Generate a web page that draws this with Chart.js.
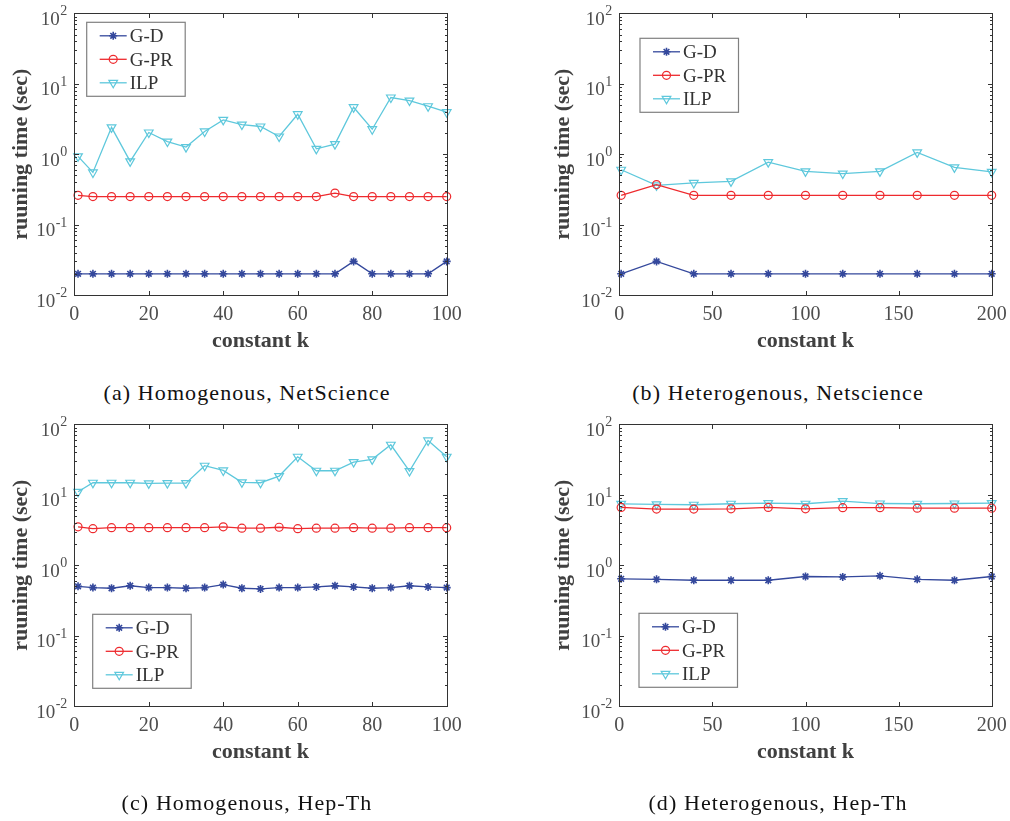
<!DOCTYPE html>
<html>
<head>
<meta charset="utf-8">
<script src="https://cdn.jsdelivr.net/npm/chart.js@4.4.0/dist/chart.umd.min.js"></script>
<style>
  body { margin: 0; background: #fff; }
  #page { position: relative; width: 1010px; height: 821px; overflow: hidden; }
  .panel { position: absolute; height: 380px; }
  .caption { position: absolute; width: 500px; text-align: center; line-height: 22px;
             font-family: "Liberation Serif", serif; font-size: 22px; letter-spacing: 1.1px; color: #111; }
</style>
</head>
<body>
<div id="page">
  <div class="panel" style="left:0;top:0"><canvas id="chartA" width="500" height="380"></canvas></div>
  <div class="panel" style="left:500px;top:0"><canvas id="chartB" width="510" height="380"></canvas></div>
  <div class="panel" style="left:0;top:411px"><canvas id="chartC" width="500" height="380"></canvas></div>
  <div class="panel" style="left:500px;top:411px"><canvas id="chartD" width="510" height="380"></canvas></div>
  <div class="caption" style="left:-3px;top:382px">(a) Homogenous, NetScience</div>
  <div class="caption" style="left:528px;top:382px">(b) Heterogenous, Netscience</div>
  <div class="caption" style="left:-3px;top:792px">(c) Homogenous, Hep-Th</div>
  <div class="caption" style="left:528px;top:792px">(d) Heterogenous, Hep-Th</div>
</div>
<script>
// constant k values
const kA = [1, 5, 10, 15, 20, 25, 30, 35, 40, 45, 50, 55, 60, 65, 70, 75, 80, 85, 90, 95, 100];
const kB = [1, 20, 40, 60, 80, 100, 120, 140, 160, 180, 200];

// (a) Homogenous, NetScience
const gdA = [0.02, 0.02, 0.02, 0.02, 0.02, 0.02, 0.02, 0.02, 0.02, 0.02, 0.02, 0.02, 0.02, 0.02, 0.02, 0.03, 0.02, 0.02, 0.02, 0.02, 0.03];
const gprA = [0.26, 0.25, 0.25, 0.25, 0.25, 0.25, 0.25, 0.25, 0.25, 0.25, 0.25, 0.25, 0.25, 0.25, 0.28, 0.25, 0.25, 0.25, 0.25, 0.25, 0.25];
const ilpA = [0.93, 0.55, 2.4, 0.79, 2.03, 1.51, 1.26, 2.1, 3.07, 2.63, 2.47, 1.78, 3.69, 1.19, 1.39, 4.64, 2.26, 6.37, 5.77, 4.79, 3.94];

// (b) Heterogenous, Netscience
const gdB = [0.02, 0.03, 0.02, 0.02, 0.02, 0.02, 0.02, 0.02, 0.02, 0.02, 0.02];
const gprB = [0.26, 0.37, 0.26, 0.26, 0.26, 0.26, 0.26, 0.26, 0.26, 0.26, 0.26];
const ilpB = [0.6, 0.36, 0.39, 0.41, 0.77, 0.57, 0.53, 0.57, 1.06, 0.65, 0.56];

// (c) Homogenous, Hep-Th
const gdC = [0.50, 0.48, 0.47, 0.51, 0.48, 0.48, 0.47, 0.48, 0.53, 0.47, 0.46, 0.48, 0.48, 0.49, 0.51, 0.49, 0.47, 0.48, 0.51, 0.49, 0.48];
const gprC = [3.5, 3.3, 3.4, 3.4, 3.4, 3.4, 3.4, 3.4, 3.5, 3.35, 3.35, 3.45, 3.3, 3.35, 3.35, 3.4, 3.35, 3.35, 3.4, 3.4, 3.4];
const ilpC = [11.0, 14.8, 14.8, 14.8, 14.5, 14.6, 14.6, 25.8, 22.1, 15.0, 14.8, 18.4, 34.6, 21.9, 21.9, 29.1, 31.8, 51.2, 21.7, 59.0, 34.6];

// (d) Heterogenous, Hep-Th
const gdD = [0.64, 0.63, 0.61, 0.61, 0.61, 0.69, 0.68, 0.705, 0.63, 0.61, 0.69];
const gprD = [6.6, 6.25, 6.25, 6.3, 6.6, 6.3, 6.55, 6.55, 6.45, 6.45, 6.45];
const ilpD = [7.4, 7.3, 7.2, 7.45, 7.6, 7.45, 8.1, 7.5, 7.45, 7.5, 7.6];

// tick labels
const xTicksA = [0, 20, 40, 60, 80, 100];
const xTicksB = [0, 50, 100, 150, 200];
const yExps = [-2, -1, 0, 1, 2];

const seriesNames = ['G-D', 'G-PR', 'ILP'];
const serif = '"Liberation Serif", "Times New Roman", serif';
const axisGray = '#404040';

function toPoints(xs, ys) {
    return xs.map((x, i) => ({ x: x, y: ys[i] }));
}

// box, inward ticks, 10^n labels and the legend
const framePlugin = {
    id: 'frame',
    afterDraw(chart) {
        const ctx = chart.ctx;
        const area = chart.chartArea;
        const xs = chart.scales.x;
        const ys = chart.scales.y;
        ctx.save();
        ctx.strokeStyle = '#333';
        ctx.lineWidth = 1;
        const L = Math.round(area.left) + 0.5, R = Math.round(area.right) + 0.5;
        const T = Math.round(area.top) + 0.5, B = Math.round(area.bottom) + 0.5;
        ctx.strokeRect(L, T, R - L, B - T);

        ctx.beginPath();
        xs.ticks.forEach(t => {
            const px = Math.round(xs.getPixelForValue(t.value)) + 0.5;
            ctx.moveTo(px, B); ctx.lineTo(px, B - 4.5);
            ctx.moveTo(px, T); ctx.lineTo(px, T + 4.5);
        });
        yExps.forEach(e => {
            for (let m = 1; m <= 9; m++) {
                const v = m * Math.pow(10, e);
                if (e === 2 && m > 1) break;
                const py = Math.round(ys.getPixelForValue(v)) + 0.5;
                const len = m === 1 ? 4.5 : 2.5;
                ctx.moveTo(L, py); ctx.lineTo(L + len, py);
                ctx.moveTo(R, py); ctx.lineTo(R - len, py);
            }
        });
        ctx.stroke();

        // y tick labels with superscript exponents
        ctx.fillStyle = '#4d4d4d';
        ctx.textAlign = 'right';
        ctx.textBaseline = 'alphabetic';
        yExps.forEach(e => {
            const py = ys.getPixelForValue(Math.pow(10, e));
            const right = area.left - 7;
            const expText = e < 0 ? '-' + Math.abs(e) : String(e);
            ctx.font = '14px ' + serif;
            const ew = ctx.measureText(expText).width;
            ctx.fillText(expText, right, py + 2);
            ctx.font = '19px ' + serif;
            ctx.fillText('10', right - ew - 0.5, py + 11.5);
        });

        // legend
        const lg = chart.options.plugins.frame;
        const bx = area.left + lg.dx, by = area.top + lg.dy;
        const bw = 98.5, bh = 74;
        ctx.fillStyle = '#fff';
        ctx.fillRect(bx, by, bw, bh);
        ctx.strokeStyle = '#808080';
        ctx.lineWidth = 1.2;
        ctx.strokeRect(bx, by, bw, bh);
        chart.data.datasets.forEach((ds, i) => {
            const cy = by + 13.5 + i * 23.5;
            ctx.strokeStyle = ds.borderColor;
            ctx.lineWidth = ds.borderWidth;
            ctx.beginPath();
            ctx.moveTo(bx + 13, cy); ctx.lineTo(bx + 40, cy);
            ctx.stroke();
            ctx.fillStyle = ds.pointBackgroundColor;
            ctx.lineWidth = ds.pointBorderWidth;
            Chart.helpers.drawPoint(ctx, {
                pointStyle: ds.pointStyle, radius: ds.pointRadius,
                rotation: ds.pointRotation || 0, borderWidth: ds.pointBorderWidth
            }, bx + 26.5, cy);
            ctx.fillStyle = '#333';
            ctx.textAlign = 'left';
            ctx.font = '19px ' + serif;
            ctx.fillText(ds.label, bx + 43, cy + 6.5);
        });
        ctx.restore();
    }
};

function makeChart(id, ks, gd, gpr, ilp, xMax, xTicks, plotLeft, rightPad, titlePad, legendOffset) {
    const ctx = document.getElementById(id).getContext('2d');
    return new Chart(ctx, {
        type: 'line',
        data: {
            datasets: [{
                label: seriesNames[0],
                data: toPoints(ks, gd),
                borderColor: '#34489c',
                borderWidth: 1.3,
                pointStyle: 'star',
                pointRadius: 4,
                pointBorderWidth: 1.6,
                pointBorderColor: '#34489c',
                pointBackgroundColor: '#34489c',
                clip: false
            }, {
                label: seriesNames[1],
                data: toPoints(ks, gpr),
                borderColor: '#ee2a2e',
                borderWidth: 1.3,
                pointStyle: 'circle',
                pointRadius: 4,
                pointBorderWidth: 1.2,
                pointBorderColor: '#ee2a2e',
                pointBackgroundColor: 'rgba(255,255,255,0)',
                clip: false
            }, {
                label: seriesNames[2],
                data: toPoints(ks, ilp),
                borderColor: '#5ec8dc',
                borderWidth: 1.3,
                pointStyle: 'triangle',
                pointRotation: 180,
                pointRadius: 5,
                pointBorderWidth: 1.2,
                pointBorderColor: '#5ec8dc',
                pointBackgroundColor: 'rgba(255,255,255,0)',
                clip: false
            }]
        },
        options: {
            responsive: false,
            animation: false,
            devicePixelRatio: 1,
            layout: { padding: { top: 13.3, right: rightPad, left: 0, bottom: 0 } },
            elements: { line: { tension: 0 } },
            scales: {
                x: {
                    type: 'linear',
                    min: 0,
                    max: xMax,
                    afterBuildTicks: s => { s.ticks = xTicks.map(v => ({ value: v })); },
                    ticks: {
                        font: { family: serif, size: 20 },
                        color: '#4d4d4d',
                        padding: 8,
                        maxRotation: 0,
                        autoSkip: false
                    },
                    grid: { display: false, drawTicks: false },
                    border: { display: false },
                    title: {
                        display: true,
                        text: 'constant k',
                        font: { family: serif, size: 22, weight: 'bold' },
                        color: axisGray,
                        padding: { top: 0, bottom: 25 }
                    },
                    afterFit: s => { s.height = 85; s.paddingLeft = 0; s.paddingRight = 0; }
                },
                y: {
                    type: 'logarithmic',
                    min: 0.01,
                    max: 100,
                    afterBuildTicks: s => { s.ticks = yExps.map(e => ({ value: Math.pow(10, e) })); },
                    ticks: { display: false },
                    grid: { display: false },
                    border: { display: false },
                    title: {
                        display: true,
                        text: 'ruuning time (sec)',
                        font: { family: serif, size: 22, weight: 'bold' },
                        color: axisGray,
                        padding: { top: titlePad, bottom: 0 }
                    },
                    afterFit: s => { s.width = plotLeft; s.paddingTop = 0; s.paddingBottom = 0; }
                }
            },
            plugins: {
                legend: { display: false },
                tooltip: { enabled: false },
                frame: legendOffset
            }
        },
        plugins: [framePlugin]
    });
}

makeChart('chartA', kA, gdA, gprA, ilpA, 100, xTicksA, 74.3, 53.3, 7.8, { dx: 12.4, dy: 9 });
makeChart('chartB', kB, gdB, gprB, ilpB, 200, xTicksB, 119.3, 18.3, 49.8, { dx: 20.7, dy: 25 });
makeChart('chartC', kA, gdC, gprC, ilpC, 100, xTicksA, 74.3, 53.3, 7.8, { dx: 18.4, dy: 190 });
makeChart('chartD', kB, gdD, gprD, ilpD, 200, xTicksB, 119.3, 18.3, 49.8, { dx: 19.7, dy: 189 });
</script>
</body>
</html>
